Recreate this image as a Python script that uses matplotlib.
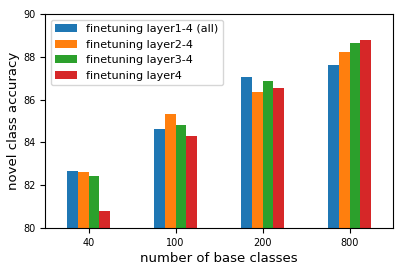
import matplotlib
matplotlib.use("Agg")
import matplotlib.pyplot as plt
import numpy as np

categories = ["40", "100", "200", "800"]
series_names = ["finetuning layer1-4 (all)", "finetuning layer2-4",
                "finetuning layer3-4", "finetuning layer4"]
layer1_4 = [82.65, 84.62, 87.07, 87.61]
layer2_4 = [82.60, 85.35, 86.36, 88.22]
layer3_4 = [82.45, 84.80, 86.86, 88.66]
layer4 = [80.81, 84.28, 86.52, 88.77]
colors = ["#1f77b4", "#ff7f0e", "#2ca02c", "#d62728"]

fig = plt.figure(figsize=(4.07, 2.71), dpi=100)
ax = fig.add_axes([45/407, 1 - 228/271, 348/407, 214/271])

x = np.arange(len(categories))
w = 0.125
all_series = [layer1_4, layer2_4, layer3_4, layer4]
for i, (vals, name, c) in enumerate(zip(all_series, series_names, colors)):
    ax.bar(x + (i - 1.5) * w, vals, width=w, color=c, label=name)

ax.set_xticks(x)
ax.set_xticklabels(categories)
ax.set_xlim(-0.5, 3.5)
ax.set_ylim(80, 90)
ax.set_yticks([80, 82, 84, 86, 88, 90])
ax.tick_params(labelsize=7)
ax.set_xlabel("number of base classes", fontsize=9.5, labelpad=3)
ax.set_ylabel("novel class accuracy", fontsize=9.5, labelpad=2)
ax.legend(loc="upper left", fontsize=8)

fig.savefig("out.png", dpi=100)
